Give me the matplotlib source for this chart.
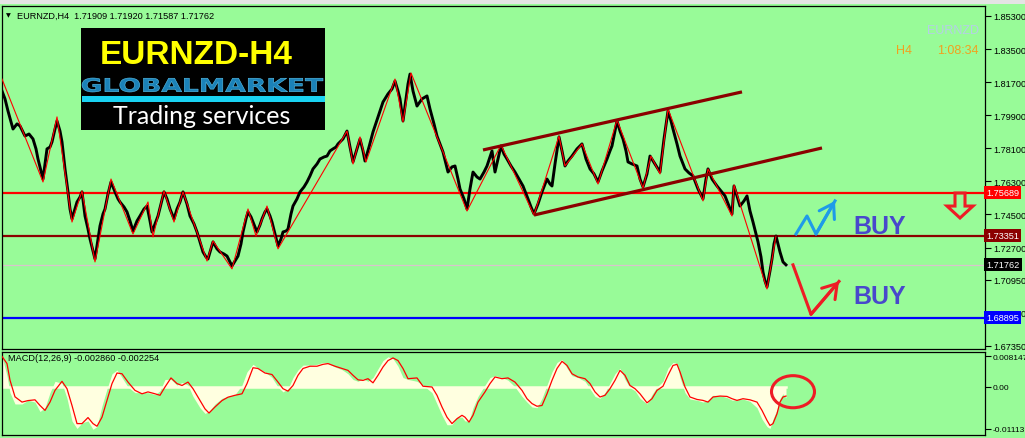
import matplotlib
matplotlib.use("Agg")
import matplotlib.pyplot as plt
from matplotlib.patches import Rectangle, Polygon, Ellipse, PathPatch
from matplotlib.textpath import TextPath
from matplotlib.font_manager import FontProperties
from matplotlib.transforms import Affine2D, blended_transform_factory

plt.rcParams['font.family'] = ['Liberation Sans', 'DejaVu Sans']

# ---- data (x = bar number, 1 bar per pixel) ----
price_bar = [0, 3, 6, 11, 15, 18, 23, 27, 31, 34,
             36, 39, 41, 43, 45, 48, 50, 53, 55, 58,
             60, 63, 66, 68, 70, 73, 75, 78, 80, 83,
             86, 88, 91, 93, 96, 98, 101, 103, 106, 109,
             111, 113, 116, 118, 122, 125, 128, 131, 135, 138,
             142, 145, 148, 150, 153, 156, 159, 162, 165, 168,
             172, 175, 178, 181, 185, 188, 192, 195, 198, 201,
             204, 206, 209, 211, 215, 218, 222, 225, 228, 230,
             233, 236, 239, 241, 244, 246, 249, 251, 253, 255,
             258, 260, 263, 265, 268, 270, 273, 276, 279, 281,
             284, 286, 289, 291, 295, 298, 302, 305, 308, 311,
             315, 318, 322, 325, 328, 331, 334, 336, 341, 345,
             348, 351, 355, 358, 361, 363, 367, 371, 376, 381,
             386, 390, 393, 396, 398, 401, 404, 406, 408, 411,
             415, 420, 425, 428, 432, 435, 438, 441, 444, 446,
             450, 453, 456, 458, 462, 465, 468, 471, 475, 478,
             482, 485, 488, 490, 493, 496, 499, 502, 505, 509,
             513, 517, 521, 526, 529, 532, 536, 540, 543, 545,
             548, 550, 553, 557, 560, 563, 566, 570, 575, 580,
             584, 588, 592, 596, 600, 605, 608, 610, 613, 615,
             618, 621, 624, 626, 630, 635, 638, 641, 645, 648,
             653, 658, 662, 666, 669, 671, 675, 678, 683, 687,
             691, 696, 701, 704, 706, 710, 715, 719, 723, 727,
             730, 732, 735, 738, 742, 745, 748, 751, 754, 756,
             759, 761, 763, 765, 768, 770, 772, 774, 776, 778,
             781, 784]
price_close = [1.8122, 1.8079, 1.8013, 1.7915, 1.7943, 1.7932, 1.7877, 1.7888, 1.7861, 1.7807,
               1.7752, 1.7687, 1.7643, 1.7725, 1.7807, 1.7817, 1.7845, 1.7915, 1.7959, 1.7904,
               1.7845, 1.7698, 1.7573, 1.7480, 1.7426, 1.7480, 1.7518, 1.7545, 1.7573, 1.7442,
               1.7371, 1.7317, 1.7252, 1.7208, 1.7317, 1.7388, 1.7453, 1.7480, 1.7562, 1.7627,
               1.7600, 1.7573, 1.7535, 1.7518, 1.7491, 1.7464, 1.7415, 1.7360, 1.7415, 1.7442,
               1.7480, 1.7496, 1.7415, 1.7355, 1.7399, 1.7442, 1.7507, 1.7573, 1.7535, 1.7480,
               1.7426, 1.7480, 1.7518, 1.7573, 1.7507, 1.7442, 1.7399, 1.7355, 1.7301, 1.7246,
               1.7219, 1.7208, 1.7263, 1.7301, 1.7263, 1.7246, 1.7235, 1.7224, 1.7192, 1.7170,
               1.7197, 1.7224, 1.7290, 1.7355, 1.7426, 1.7464, 1.7437, 1.7409, 1.7382, 1.7355,
               1.7393, 1.7426, 1.7464, 1.7480, 1.7442, 1.7409, 1.7344, 1.7279, 1.7317, 1.7355,
               1.7360, 1.7371, 1.7453, 1.7496, 1.7535, 1.7573, 1.7600, 1.7627, 1.7660, 1.7698,
               1.7725, 1.7752, 1.7763, 1.7768, 1.7796, 1.7807, 1.7817, 1.7834, 1.7861, 1.7904,
               1.7817, 1.7736, 1.7807, 1.7861, 1.7796, 1.7741, 1.7817, 1.7899, 1.7981, 1.8062,
               1.8106, 1.8133, 1.8176, 1.8122, 1.8079, 1.7959, 1.8079, 1.8160, 1.8214, 1.8122,
               1.8040, 1.8079, 1.8095, 1.8024, 1.7943, 1.7877, 1.7834, 1.7790, 1.7725, 1.7681,
               1.7709, 1.7714, 1.7643, 1.7589, 1.7535, 1.7480, 1.7589, 1.7681, 1.7654, 1.7643,
               1.7681, 1.7714, 1.7763, 1.7796, 1.7681, 1.7752, 1.7823, 1.7779, 1.7752, 1.7714,
               1.7681, 1.7643, 1.7605, 1.7535, 1.7491, 1.7453, 1.7507, 1.7573, 1.7616, 1.7643,
               1.7616, 1.7605, 1.7725, 1.7872, 1.7796, 1.7714, 1.7741, 1.7768, 1.7807, 1.7834,
               1.7752, 1.7698, 1.7671, 1.7627, 1.7687, 1.7752, 1.7796, 1.7823, 1.7904, 1.7959,
               1.7904, 1.7861, 1.7796, 1.7736, 1.7725, 1.7714, 1.7643, 1.7600, 1.7671, 1.7768,
               1.7725, 1.7681, 1.7861, 1.8013, 1.7959, 1.7915, 1.7834, 1.7768, 1.7698, 1.7676,
               1.7660, 1.7589, 1.7535, 1.7643, 1.7698, 1.7643, 1.7605, 1.7578, 1.7551, 1.7496,
               1.7453, 1.7605, 1.7551, 1.7496, 1.7524, 1.7551, 1.7469, 1.7409, 1.7344, 1.7301,
               1.7219, 1.7137, 1.7088, 1.7056, 1.7143, 1.7208, 1.7290, 1.7333, 1.7290, 1.7246,
               1.7192, 1.7176]

zz_bar = [0, 41, 55, 70, 80, 93, 109, 131, 146, 151, 162, 172, 181, 205, 211, 230, 246, 254,
          265, 276, 345, 351, 358, 364, 393, 401, 409, 465, 499, 532, 557, 563, 580, 596,
          615, 641, 649, 658, 666, 701, 706, 730, 732, 765, 774]
zz_price = [1.8187, 1.7627, 1.7981, 1.7409, 1.7578, 1.7192, 1.7643, 1.7344, 1.7518, 1.7328,
            1.7578, 1.7409, 1.7573, 1.7197, 1.7306, 1.7154, 1.7480, 1.7333, 1.7496, 1.7263,
            1.7904, 1.7725, 1.7872, 1.7736, 1.8187, 1.7953, 1.8220, 1.7469, 1.7828, 1.7447,
            1.7877, 1.7714, 1.7834, 1.7616, 1.7964, 1.7594, 1.7768, 1.7671, 1.8024, 1.7524,
            1.7698, 1.7442, 1.7611, 1.7045, 1.7333]

# channel lines: (bar, price) start and end
chan_upper = [(481, 1.7801), (740, 1.8117)]
chan_lower = [(532, 1.7447), (820, 1.7812)]

# horizontal levels
lvl_resist = 1.75689
lvl_mid = 1.73351
lvl_bid = 1.71762
lvl_support = 1.68895

price_ticks = [1.853, 1.835, 1.817, 1.799, 1.781, 1.763, 1.745, 1.727, 1.7095, 1.6915, 1.6735]

# MACD(12,26,9), values in thousandths
macd_bar = [0, 5, 8, 13, 20, 26, 33, 38, 43, 48,
            53, 60, 65, 70, 75, 80, 86, 91, 95, 100,
            105, 110, 115, 120, 126, 133, 140, 146, 153, 158,
            163, 169, 175, 180, 186, 191, 198, 203, 207, 213,
            220, 226, 233, 240, 245, 251, 256, 263, 270, 276,
            281, 286, 291, 296, 301, 308, 315, 321, 326, 333,
            340, 346, 351, 356, 361, 366, 371, 376, 381, 386,
            391, 396, 401, 406, 415, 421, 430, 435, 440, 445,
            450, 455, 460, 463, 467, 471, 476, 483, 488, 493,
            500, 506, 513, 520, 525, 530, 535, 540, 545, 550,
            555, 560, 565, 570, 576, 583, 588, 593, 598, 603,
            608, 613, 618, 623, 628, 633, 638, 645, 650, 655,
            661, 666, 671, 675, 678, 683, 688, 695, 701, 706,
            711, 718, 725, 730, 735, 741, 748, 755, 760, 765,
            768, 771, 775, 778, 781, 784]
macd_main = [8.1, 3.0, -1.5, -4.5, -4.5, -3.5, -4.0, -6.5, -5.5, -1.5,
             1.5, 1.0, -3.0, -9.0, -11.0, -9.5, -9.0, -11.2, -10.5, -5.0,
             -0.5, 3.5, 4.5, 2.5, 0.0, -1.5, -1.5, -1.5, -2.0, -1.0,
             2.0, 2.0, 0.5, 1.2, 0.5, -2.5, -5.5, -7.0, -6.5, -4.5,
             -3.0, -2.5, -2.0, 0.5, 4.0, 6.0, 5.0, 4.0, 2.5, 0.0,
             -1.3, -0.5, 2.5, 4.5, 5.8, 5.8, 6.0, 6.5, 6.3, 5.3,
             4.6, 3.5, 2.0, 1.5, 2.2, 1.5, 2.5, 4.8, 7.0, 8.0,
             7.5, 5.5, 2.5, 2.0, 1.5, 0.5, -1.5, -4.5, -7.5, -10.0,
             -10.0, -8.0, -8.0, -9.0, -9.0, -5.5, -2.5, 0.5, 2.5, 3.0,
             2.5, 1.8, 0.0, -2.5, -4.0, -5.3, -5.5, -3.0, 0.5, 4.0,
             6.5, 7.3, 5.0, 3.0, 2.5, 1.5, -0.5, -2.5, -3.0, -1.5,
             1.0, 3.5, 5.0, 2.0, -0.2, -1.0, -3.0, -4.5, -2.0, 0.0,
             1.5, 5.0, 6.5, 6.2, 2.5, -1.5, -3.2, -3.5, -4.0, -3.5,
             -2.2, -2.3, -2.8, -3.5, -3.4, -3.2, -3.8, -5.5, -8.5, -10.5,
             -11.0, -8.5, -6.0, -3.0, -1.8, -2.9]
macd_signal = [8.1, 6.2, 1.8, -2.6, -4.0, -3.6, -3.4, -4.9, -6.2, -4.0,
               -0.9, 1.5, -0.45, -4.9, -9.7, -9.7, -8.1, -9.7, -10.4, -8.0,
               -3.6, 0.9, 3.7, 3.5, 1.3, -0.9, -1.8, -1.3, -1.8, -2.2,
               0.0, 2.4, 0.9, 0.4, 1.3, -0.45, -3.6, -5.8, -6.9, -5.3,
               -3.6, -2.7, -2.2, -1.8, 0.9, 5.1, 4.9, 3.7, 3.3, 1.3,
               -0.45, -1.1, 0.4, 3.1, 4.9, 5.5, 5.5, 6.0, 6.2, 5.5,
               4.9, 4.4, 3.1, 1.9, 1.75, 2.2, 1.1, 3.1, 5.3, 7.0,
               7.7, 7.0, 4.9, 2.2, 2.4, 0.2, 0.0, -2.2, -5.3, -8.0,
               -9.7, -8.4, -7.5, -8.0, -9.3, -7.5, -4.0, -1.3, 0.9, 2.65,
               2.2, 2.4, 1.3, -0.9, -3.1, -4.4, -5.1, -4.9, -1.8, 1.75,
               4.9, 6.8, 5.7, 3.5, 2.65, 2.2, 0.9, -1.3, -2.65, -2.2,
               -0.45, 1.75, 4.4, 3.1, 0.4, -0.45, -1.8, -4.2, -3.1, -0.9,
               0.2, 3.1, 5.7, 6.0, 4.0, 0.0, -2.65, -3.3, -3.55, -4.0,
               -2.65, -2.4, -2.5, -3.1, -3.55, -3.1, -3.4, -4.0, -6.2, -8.85,
               -10.2, -9.7, -7.1, -4.0, -2.65, -2.4]
macd_ticks = [0.008147, 0.0, -0.01113]
macd_tick_labels = ["0.008147", "0.00", "-0.01113"]

# hand-drawn annotations (bar, price)
blue_path = [(794, 1.7344), (805, 1.7442), (814, 1.7344), (833, 1.7524)]
red_path = [(791, 1.7176), (809, 1.6907), (837, 1.7086)]
buy_labels = [(878, 1.7388), (878, 1.7007)]
down_arrow = [(953, 1.7567), (963, 1.7567), (963, 1.7496), (971, 1.7496),
              (958, 1.7431), (945, 1.7496), (953, 1.7496)]
circle_macd = (791, -0.00125)

# ---- figure ----
W, H = 1025, 439
GREEN = "#98fb98"
CREAM = "#ffffe0"
MAROON = "#8b0000"

fig = plt.figure(figsize=(W / 100, H / 100), dpi=100, facecolor=GREEN)


def fbox(x0, y0, x1, y1):
    return [x0 / W, 1 - y1 / H, (x1 - x0) / W, (y1 - y0) / H]


ax = fig.add_axes(fbox(2, 7, 985, 350))
am = fig.add_axes(fbox(2, 353, 985, 436))
for a in (ax, am):
    a.set_facecolor(GREEN)
    a.set_xlim(0, 983)
    a.set_xticks([])
    a.yaxis.tick_right()
    a.tick_params(axis='y', length=4, width=0.8, pad=2, labelsize=6.6, colors='black')
    for s in a.spines.values():
        s.set_color('black')
        s.set_linewidth(0.9)

ax.set_ylim(1.67182, 1.85844)
ax.set_yticks(price_ticks)
ax.set_yticklabels([f"{v:.5f}" for v in price_ticks])

# horizontal levels
ax.axhline(lvl_resist, color='#ff0000', lw=1.6, zorder=2)
ax.axhline(lvl_mid, color=MAROON, lw=1.6, zorder=2)
ax.axhline(lvl_bid, color='#d8c4cc', lw=0.9, zorder=2)
ax.axhline(lvl_support, color='#0000ff', lw=1.6, zorder=2)

# price and zigzag
ax.plot(price_bar, price_close, color='black', lw=2.1, zorder=3)
ax.plot(zz_bar, zz_price, color='#ff0000', lw=0.8, zorder=4)

# channel
for ch in (chan_upper, chan_lower):
    ax.plot([p[0] for p in ch], [p[1] for p in ch], color=MAROON, lw=2.3, zorder=4,
            solid_capstyle='butt')

# annotations
ax.plot([p[0] for p in blue_path], [p[1] for p in blue_path], color='#1e9be8', lw=2.2, zorder=5)
ax.annotate("", xy=blue_path[-1], xytext=blue_path[-2],
            arrowprops=dict(arrowstyle="->,head_length=0.7,head_width=0.45", color='#1e9be8',
                            lw=2.2, shrinkA=0, shrinkB=0, mutation_scale=14), zorder=5)
ax.plot([p[0] for p in red_path], [p[1] for p in red_path], color='#ee1c25', lw=2.2, zorder=5)
ax.annotate("", xy=red_path[-1], xytext=red_path[-2],
            arrowprops=dict(arrowstyle="->,head_length=0.7,head_width=0.45", color='#ee1c25',
                            lw=2.2, shrinkA=0, shrinkB=0, mutation_scale=14), zorder=5)
for bx, by in buy_labels:
    ax.text(bx, by, "BUY", color='#4848cc', fontsize=18, fontweight='bold',
            ha='center', va='center', zorder=5)
ax.add_patch(Polygon(down_arrow, closed=True, fill=False, ec='#ee1c25', lw=2.2, zorder=5))

# price labels on the right scale
bt = blended_transform_factory(ax.transAxes, ax.transData)
for val, col in ((lvl_resist, '#ff0000'), (lvl_mid, MAROON), (lvl_bid, 'black'),
                 (lvl_support, '#0000ff')):
    ax.text(1.0015, val, f"{val:.5f}", transform=bt, ha='left', va='center', color='white',
            fontsize=6.6, zorder=10, clip_on=False,
            bbox=dict(boxstyle='square,pad=0.22', fc=col, ec='none'))

# MACD panel
am.set_ylim(-0.01272, 0.00927)
am.set_yticks(macd_ticks)
am.set_yticklabels(macd_tick_labels)
am.tick_params(axis='y', labelsize=6.0, pad=1.5)
hist = [v / 1000 for v in macd_main]
sig = [v / 1000 for v in macd_signal]
am.fill_between(macd_bar, 0, hist, color=CREAM, lw=0, zorder=2)
am.plot([macd_bar[0], macd_bar[-1]], [0, 0], color=CREAM, lw=1.8, zorder=2)
am.plot(macd_bar, sig, color='#ff0000', lw=0.9, zorder=3)
am.add_patch(Ellipse(circle_macd, 43, 0.0085, fill=False, ec='#ee1c25', lw=2.2, zorder=5))
am.text(6 / 983, 0.93, "MACD(12,26,9) -0.002860 -0.002254", transform=am.transAxes,
        fontsize=6.6, va='center', ha='left', color='black')

# header texts
fig.text(6 / W, 1 - 16 / H, "\u25bc", fontsize=4.5, family='DejaVu Sans', va='center')
fig.text(17 / W, 1 - 16 / H, "EURNZD,H4  1.71909 1.71920 1.71587 1.71762", fontsize=6.6,
         va='center', ha='left', color='black')
fig.text(979 / W, 1 - 31 / H, "EURNZD", fontsize=9, color='#b4cfe6', ha='right', va='center')
fig.text(896 / W, 1 - 51 / H, "H4", fontsize=9, color='#f2a01e', ha='left', va='center')
fig.text(979 / W, 1 - 51 / H, "1:08:34", fontsize=9, color='#f2a01e', ha='right', va='center')

# window top strip
fig.add_artist(Rectangle((0, 1 - 5 / H), 1, 5 / H, transform=fig.transFigure,
                         fc='#e4e4e4', ec='none'))

# logo
fig.add_artist(Rectangle((81 / W, 1 - 131 / H), 244 / W, 102 / H, transform=fig.transFigure,
                         fc='black', ec='none', zorder=20))
fig.text(196 / W, 1 - 55 / H, "EURNZD-H4", fontsize=24, fontweight='bold', color='#ffff00',
         ha='center', va='center', zorder=21)
tp = TextPath((0, 0), "GLOBALMARKET", size=1, prop=FontProperties(family='DejaVu Sans',
                                                                   weight='bold'))
bb = tp.get_extents()
tr = Affine2D().translate(-bb.x0, -bb.y0).scale((241 / W) / bb.width, (14 / H) / bb.height) \
    .translate(82 / W, 1 - 93 / H) + fig.transFigure
fig.add_artist(PathPatch(tp, transform=tr, fc='#1b82b8', ec='#5cc4ee', lw=0.4, zorder=21))
fig.add_artist(Rectangle((82 / W, 1 - 103 / H), 243 / W, 6 / H, transform=fig.transFigure,
                         fc='#19d2f2', ec='none', zorder=21))
fig.text(202 / W, 1 - 117 / H, "Trading services", fontsize=18, family=['Lato', 'DejaVu Sans'],
         color='white', ha='center', va='center', zorder=21)

fig.savefig("out.png", dpi=100, facecolor=GREEN)
